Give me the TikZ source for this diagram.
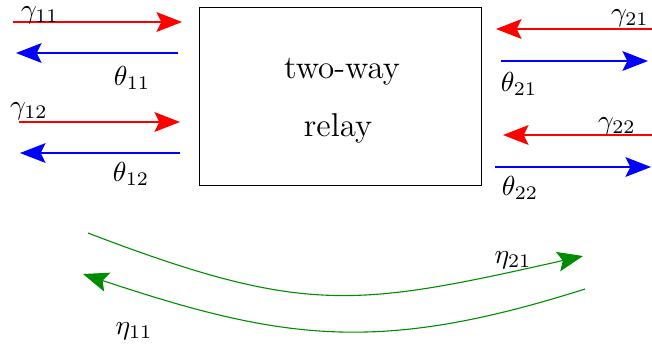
\documentclass[tikz,border=0pt]{standalone}
\usetikzlibrary{arrows.meta}
\definecolor{dgreen}{rgb}{0,0.55,0}
\begin{document}
\begin{tikzpicture}[x={(0.3636pt,0)},y={(0,-0.3636pt)},line width=0.4pt,
  tip/.style={-{Stealth[length=9.3pt,width=7.2pt,inset=1.8pt]}},
  redarrow/.style={tip,draw=red},
  bluearrow/.style={tip,draw=blue},
  greenarrow/.style={tip,draw=dgreen},
  lbl/.style={inner sep=0pt},
  relaybox/.style={draw,line width=0.3pt,minimum width=102.5pt,minimum height=64.7pt,inner sep=0pt}]
\useasboundingbox (0,0) rectangle (652,351);
% box
\node[relaybox] (relay) at (340,96) {};
\node[lbl,font=\large] (t1) at (342,72) {two-way};
\node[lbl,font=\large] (t2) at (338,128) {relay};
% coordinates for arrows
\coordinate (a1s) at (13,22);  \coordinate (a1e) at (182,22);
\coordinate (b1s) at (178,53); \coordinate (b1e) at (16,53);
\coordinate (a2s) at (19,122); \coordinate (a2e) at (180,122);
\coordinate (b2s) at (180,153);\coordinate (b2e) at (20,153);
\coordinate (c1s) at (652,29); \coordinate (c1e) at (496,29);
\coordinate (d1s) at (501,61); \coordinate (d1e) at (648,61);
\coordinate (c2s) at (652,135);\coordinate (c2e) at (503,135);
\coordinate (d2s) at (495,167);\coordinate (d2e) at (651,167);
\coordinate (g1s) at (88,233); \coordinate (g1e) at (583,256);
\coordinate (g2s) at (585,289);\coordinate (g2e) at (83,274);
% arrows
\draw[redarrow] (a1s) -- (a1e);
\draw[bluearrow] (b1s) -- (b1e);
\draw[redarrow] (a2s) -- (a2e);
\draw[bluearrow] (b2s) -- (b2e);
\draw[redarrow] (c1s) -- (c1e);
\draw[bluearrow] (d1s) -- (d1e);
\draw[redarrow] (c2s) -- (c2e);
\draw[bluearrow] (d2s) -- (d2e);
\draw[greenarrow] (g1s) .. controls (305,316) and (356,307) .. (g1e);
\draw[greenarrow] (g2s) .. controls (380,354) and (284,341) .. (g2e);
% labels
\node[lbl] (lg11) at (40,15) {$\gamma_{11}$};
\node[lbl] (lt11) at (132,78) {$\theta_{11}$};
\node[lbl] (lg12) at (29,111) {$\gamma_{12}$};
\node[lbl] (lt12) at (131,174) {$\theta_{12}$};
\node[lbl] (lg21) at (630,18) {$\gamma_{21}$};
\node[lbl] (lt21) at (519,84) {$\theta_{21}$};
\node[lbl] (lg22) at (617,126) {$\gamma_{22}$};
\node[lbl] (lt22) at (520,188) {$\theta_{22}$};
\node[lbl] (le21) at (513,260) {$\eta_{21}$};
\node[lbl] (le11) at (134,331) {$\eta_{11}$};
\end{tikzpicture}
\end{document}
